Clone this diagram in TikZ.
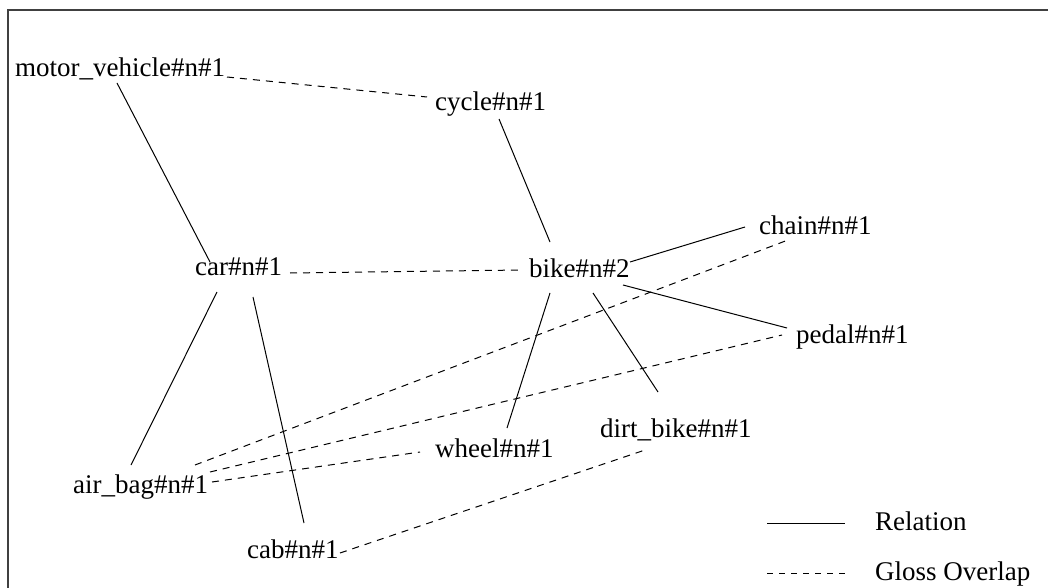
\documentclass[tikz,border=0pt]{standalone}
\usepackage{fontspec}
\setmainfont{Liberation Serif}
\begin{document}
\begin{tikzpicture}[x=1pt,y=-1pt,
  lbl/.style={inner sep=0pt,anchor=base west,font=\fontsize{27}{32}\selectfont},
  rel/.style={line width=1pt,black},
  gloss/.style={line width=1pt,black,dash pattern=on 7pt off 6pt},
  legdash/.style={line width=1pt,black,dash pattern=on 6pt off 6pt},
  frame/.style={line width=1.6pt,black!75}]
\useasboundingbox (0,0) rectangle (1048,588);
\fill[white] (0,0) rectangle (1048,588);
\draw[frame] (8,590) -- (8,10) -- (1050,10);

\node[lbl] (mv) at (15,77) {motor\_vehicle\#n\#1};
\node[lbl] (cycle) at (435,111) {cycle\#n\#1};
\node[lbl] (bike) at (529,277) {bike\#n\#2};
\node[lbl] (car) at (195,275) {car\#n\#1};
\node[lbl] (chain) at (759,234) {chain\#n\#1};
\node[lbl] (pedal) at (796,343) {pedal\#n\#1};
\node[lbl] (dirt) at (600,437) {dirt\_bike\#n\#1};
\node[lbl] (wheel) at (435,457) {wheel\#n\#1};
\node[lbl] (airbag) at (73,493) {air\_bag\#n\#1};
\node[lbl] (cab) at (247,558) {cab\#n\#1};
\node[lbl] (relL) at (875,530) {Relation};
\node[lbl] (glossL) at (875,580) {Gloss Overlap};

% relations
\draw[rel] ([shift={(102,6)}]mv.base west) -- ([shift={(15,-13)}]car.base west);
\draw[rel] ([shift={(64,8)}]cycle.base west) -- ([shift={(21,-35)}]bike.base west);
\draw[rel] ([shift={(101,-15)}]bike.base west) -- ([shift={(-14,-7)}]chain.base west);
\draw[rel] ([shift={(94,8)}]bike.base west) -- ([shift={(-9,-15)}]pedal.base west);
\draw[rel] ([shift={(21,16)}]bike.base west) -- ([shift={(72,-29)}]wheel.base west);
\draw[rel] ([shift={(64,16)}]bike.base west) -- ([shift={(58,-45)}]dirt.base west);
\draw[rel] ([shift={(22,17)}]car.base west) -- ([shift={(58,-28)}]airbag.base west);
\draw[rel] ([shift={(58,22)}]car.base west) -- ([shift={(57,-35)}]cab.base west);

% gloss overlaps
\draw[gloss] ([shift={(212,0)}]mv.base west) -- ([shift={(-8,-14)}]cycle.base west);
\draw[gloss] ([shift={(95,-2)}]car.base west) -- ([shift={(-7,-7)}]bike.base west);
\draw[gloss] ([shift={(122,-28)}]airbag.base west) -- ([shift={(29,6)}]chain.base west);
\draw[gloss] ([shift={(137,-21)}]airbag.base west) -- ([shift={(-14,-8)}]pedal.base west);
\draw[gloss] ([shift={(139,-11)}]airbag.base west) -- ([shift={(-15,-5)}]wheel.base west);
\draw[gloss] ([shift={(93,-5)}]cab.base west) -- ([shift={(45,13)}]dirt.base west);

% legend
\draw[rel] ([shift={(-108,-7)}]relL.base west) -- ([shift={(-30,-7)}]relL.base west);
\draw[legdash] ([shift={(-108,-7)}]glossL.base west) -- ([shift={(-30,-7)}]glossL.base west);
\end{tikzpicture}
\end{document}
